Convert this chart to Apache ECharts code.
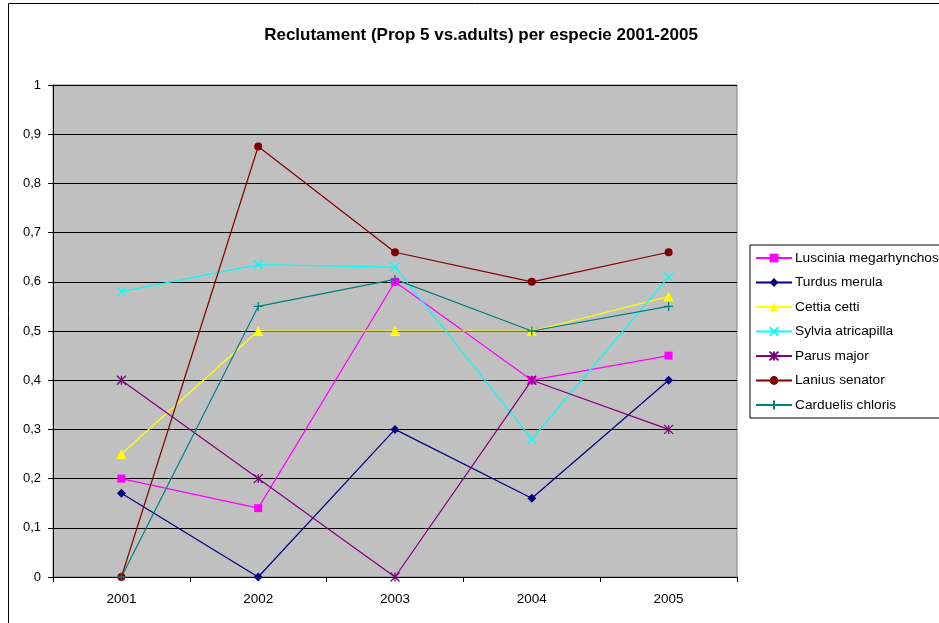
<!DOCTYPE html>
<html>
<head>
<meta charset="utf-8">
<script src="https://cdn.jsdelivr.net/npm/echarts@6/dist/echarts.min.js"></script>
<style>
  html, body { margin: 0; padding: 0; background: #fff; }
  #chart { width: 939px; height: 623px; }
</style>
</head>
<body>
<div id="chart"></div>
<script>
  // dades llegides del gràfic
  const years = ['2001', '2002', '2003', '2004', '2005']
  const luscinia = [0.2, 0.14, 0.6, 0.4, 0.45]
  const turdus = [0.17, 0, 0.3, 0.16, 0.4]
  const cettia = [0.25, 0.5, 0.5, 0.5, 0.57]
  const sylvia = [0.58, 0.635, 0.63, 0.28, 0.61]
  const parus = [0.4, 0.2, 0, 0.4, 0.3]
  const lanius = [0, 0.875, 0.66, 0.6, 0.66]
  const carduelis = [0, 0.55, 0.605, 0.5, 0.55]
  const yTicks = [0, 0.1, 0.2, 0.3, 0.4, 0.5, 0.6, 0.7, 0.8, 0.9, 1]

  const FONT = '"Liberation Sans", Arial, sans-serif'

  // símbols estil Excel
  const X_PATH = 'path://M0,0L10,10M10,0L0,10'
  const STAR_PATH = 'path://M0,0L10,10M10,0L0,10M5,0L5,10'
  const PLUS_PATH = 'path://M5,0L5,10M0,5L10,5'

  function mk (name, data, color, symbol, size, stroke) {
    return {
      name: name,
      type: 'line',
      data: data,
      symbol: symbol,
      symbolSize: size,
      showAllSymbol: true,
      lineStyle: { color: color, width: 1.2 },
      itemStyle: stroke
        ? { color: 'none', borderColor: color, borderWidth: 1.3 }
        : { color: color, borderColor: color, borderWidth: 0 },
      emphasis: { disabled: true },
      animation: false
    }
  }

  const series = [
    mk('Luscinia megarhynchos', luscinia, '#ff00ff', 'rect', 8),
    mk('Turdus merula', turdus, '#000080', 'diamond', 9),
    mk('Cettia cetti', cettia, '#ffff00', 'triangle', 10),
    mk('Sylvia atricapilla', sylvia, '#00ffff', X_PATH, 9, true),
    mk('Parus major', parus, '#800080', STAR_PATH, 9, true),
    mk('Lanius senator', lanius, '#800000', 'circle', 8),
    mk('Carduelis chloris', carduelis, '#008080', PLUS_PATH, 9, true)
  ]

  const chart = echarts.init(document.getElementById('chart'), null, { renderer: 'canvas' })
  chart.setOption({
    backgroundColor: '#fff',
    animation: false,
    title: {
      text: 'Reclutament (Prop 5 vs.adults) per especie 2001-2005',
      left: 476,
      textAlign: 'center',
      top: 22,
      textStyle: { fontFamily: FONT, fontSize: 17, fontWeight: 'bold', color: '#000' }
    },
    graphic: [{
      type: 'rect',
      shape: { x: 8.5, y: 3.5, width: 1100, height: 800 },
      style: { fill: 'none', stroke: '#000', lineWidth: 1 },
      silent: true,
      z: -1
    }],
    legend: {
      orient: 'vertical',
      left: 750,
      top: 245,
      padding: [6, 60, 6, 5],
      itemGap: 10.5,
      itemWidth: 36,
      itemHeight: 11,
      borderColor: '#000',
      borderWidth: 1,
      backgroundColor: '#fff',
      textStyle: { fontFamily: FONT, fontSize: 13.7, color: '#000', padding: [0, 0, 0, -2] },
      data: series.map(s => s.name)
    },
    grid: {
      left: 53,
      top: 85,
      width: 684,
      height: 492,
      show: true,
      backgroundColor: '#c0c0c0',
      borderColor: '#808080',
      borderWidth: 1
    },
    xAxis: {
      type: 'category',
      data: years,
      boundaryGap: true,
      axisLine: { lineStyle: { color: '#000', width: 1 } },
      axisTick: { show: true, length: 5, lineStyle: { color: '#000' } },
      axisLabel: { fontFamily: FONT, fontSize: 13.5, color: '#000', margin: 15 },
      splitLine: { show: false }
    },
    yAxis: {
      type: 'value',
      min: 0,
      max: 1,
      interval: 0.1,
      axisLine: { show: true, lineStyle: { color: '#000', width: 1 } },
      axisTick: { show: true, length: 5, lineStyle: { color: '#000' } },
      axisLabel: {
        fontFamily: FONT,
        fontSize: 13,
        color: '#000',
        margin: 12,
        formatter: v => {
          const t = yTicks.find(k => Math.abs(k - v) < 1e-6)
          const n = t === undefined ? v : t
          return (n === 0 || n === 1) ? String(n) : n.toFixed(1).replace('.', ',')
        }
      },
      splitLine: { show: true, lineStyle: { color: '#000', width: 1 } }
    },
    series: series
  })
</script>
</body>
</html>
